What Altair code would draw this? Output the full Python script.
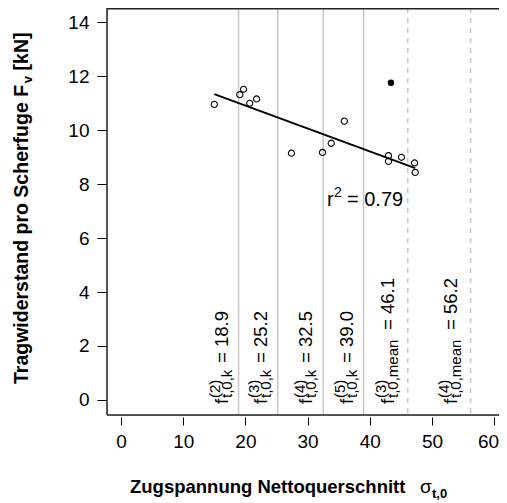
import altair as alt
import pandas as pd

# ---------------- data ----------------
x_open = [15.0, 19.1, 19.7, 20.7, 21.8, 27.4, 32.4, 33.8, 35.9, 43.0, 43.0, 45.1, 47.2, 47.3]
y_open = [10.95, 11.31, 11.51, 10.99, 11.15, 9.14, 9.17, 9.51, 10.33, 9.05, 8.84, 8.99, 8.78, 8.43]
x_filled = [43.4]
y_filled = [11.75]

line_values = [18.9, 25.2, 32.5, 39.0, 46.1, 56.2]
line_kind = ["k", "k", "k", "k", "mean", "mean"]
label_sup = ["(2)", "(3)", "(4)", "(5)", "(3)", "(4)"]
label_sub = ["t,0,k", "t,0,k", "t,0,k", "t,0,k", "t,0,mean", "t,0,mean"]
label_val = ["18.9", "25.2", "32.5", "39.0", "46.1", "56.2"]
r2_value = "0.79"

x_ticks = [0, 10, 20, 30, 40, 50, 60]
y_ticks = [0, 2, 4, 6, 8, 10, 12, 14]

# ---------------- layout ----------------
W, H = 392, 407
XDOM = [-2.25, -2.25 + W / 6.22]
YDOM = [-0.556, 14.52]
FONT = "Liberation Sans"

pts = pd.DataFrame({"x": x_open, "y": y_open})
filled = pd.DataFrame({"x": x_filled, "y": y_filled})
vl = pd.DataFrame({"v": line_values, "kind": line_kind, "sup": label_sup,
                   "sub": label_sub, "val": ["= " + s for s in label_val]})
one = pd.DataFrame({"a": [0]})

xs = alt.Scale(domain=XDOM, nice=False, zero=False)
ys = alt.Scale(domain=YDOM, nice=False, zero=False)

last_tick = "datum.value == %d" % x_ticks[-1]
x_axis = alt.Axis(values=x_ticks, domain=False, offset=2, tickSize=8, tickColor="black",
                  tickWidth=1, labelFontSize=19, labelFont=FONT, labelColor="black",
                  labelPadding=7, grid=False, title=None, labelFlush=False,
                  labelAlign={"condition": {"test": last_tick, "value": "right"}, "value": "center"},
                  labelOffset={"condition": {"test": last_tick, "value": 4.5}, "value": 0})
y_axis = alt.Axis(values=y_ticks, domain=False, offset=1, tickSize=9, tickColor="black",
                  tickWidth=1, labelFontSize=19, labelFont=FONT, labelColor="black",
                  labelPadding=8, grid=False, title=None)


def X(field):
    return alt.X(field, scale=xs, axis=x_axis)


def Y(field):
    return alt.Y(field, scale=ys, axis=y_axis)


base = alt.Chart(pts).mark_point(shape="circle", size=38, filled=False, stroke="black",
                                 strokeWidth=1.1, opacity=1).encode(x=X("x:Q"), y=Y("y:Q"))

filled_pt = alt.Chart(filled).mark_point(shape="circle", size=42, filled=True,
                                         color="black", opacity=1).encode(x=X("x:Q"), y=Y("y:Q"))

reg = alt.Chart(pts).transform_regression("x", "y").mark_line(
    color="black", strokeWidth=2).encode(x=X("x:Q"), y=Y("y:Q"))

solid = alt.Chart(vl).transform_filter("datum.kind == 'k'").mark_rule(
    color="#c8c8c8", strokeWidth=1.5).encode(x=X("v:Q"))
dashed = alt.Chart(vl).transform_filter("datum.kind == 'mean'").mark_rule(
    color="#c8c8c8", strokeWidth=1.5, strokeDash=[5, 5]).encode(x=X("v:Q"))

# box (top, left, bottom)
box_top = alt.Chart(one).mark_rule(color="#222222", strokeWidth=1.5).encode(
    x=alt.value(0), x2=alt.value(W + 5), y=alt.value(0.75))
box_left = alt.Chart(one).mark_rule(color="#222222", strokeWidth=1.5).encode(
    x=alt.value(0), y=alt.value(0), y2=alt.value(H))
box_bottom = alt.Chart(one).mark_rule(color="#222222", strokeWidth=1.5).encode(
    x=alt.value(0), x2=alt.value(W + 5), y=alt.value(H))

# rotated labels next to the vertical lines
Y0 = 396
MAIN_FS = 18.5
SUB_FS = 15


def label_layers(kind, base_dy, rest_dx):
    src = alt.Chart(vl).transform_filter(f"datum.kind == '{kind}'")
    common = dict(angle=270, align="left", baseline="alphabetic", font=FONT, color="black")
    f = src.mark_text(text="f", fontSize=MAIN_FS, dy=base_dy, **common).encode(
        x=X("v:Q"), y=alt.value(Y0))
    sup = src.mark_text(fontSize=SUB_FS, dx=6, dy=base_dy - 7.5, **common).encode(
        x=X("v:Q"), y=alt.value(Y0), text="sup:N")
    sub = src.mark_text(fontSize=SUB_FS, dx=6, dy=base_dy + 4, **common).encode(
        x=X("v:Q"), y=alt.value(Y0), text="sub:N")
    rest = src.mark_text(fontSize=MAIN_FS, dx=rest_dx, dy=base_dy, **common).encode(
        x=X("v:Q"), y=alt.value(Y0), text="val:N")
    return [f, sup, sub, rest]


lab_k = label_layers("k", -11, 41)
lab_m = label_layers("mean", -14, 74)

# r^2 annotation
R2X, R2Y = 220, 198
R2FS = 20
r_txt = alt.Chart(one).mark_text(text="r", fontSize=R2FS, font=FONT, align="left",
                                 baseline="alphabetic", color="black").encode(
    x=alt.value(R2X), y=alt.value(R2Y))
r_sup = alt.Chart(one).mark_text(text="2", fontSize=14, font=FONT, align="left",
                                 baseline="alphabetic", color="black", dx=7, dy=-9).encode(
    x=alt.value(R2X), y=alt.value(R2Y))
r_rest = alt.Chart(one).mark_text(text="= " + r2_value, fontSize=R2FS, font=FONT, align="left",
                                  baseline="alphabetic", color="black", dx=20).encode(
    x=alt.value(R2X), y=alt.value(R2Y))

# axis titles
YT_X, YT_Y = -79, 376
YT_FS = 19.5
yt_main = alt.Chart(one).mark_text(text="Tragwiderstand pro Scherfuge F", fontSize=YT_FS,
                                   fontWeight="bold", font=FONT, angle=270, align="left",
                                   baseline="alphabetic", color="black").encode(
    x=alt.value(YT_X), y=alt.value(YT_Y))
yt_sub = alt.Chart(one).mark_text(text="v", fontSize=13, fontWeight="bold", font=FONT,
                                  angle=270, align="left", baseline="alphabetic", color="black",
                                  dx=15.392 * YT_FS + 0.5, dy=4).encode(
    x=alt.value(YT_X), y=alt.value(YT_Y))
yt_rest = alt.Chart(one).mark_text(text="[kN]", fontSize=YT_FS, fontWeight="bold", font=FONT,
                                   angle=270, align="left", baseline="alphabetic", color="black",
                                   dx=15.392 * YT_FS + 8 + 0.278 * YT_FS).encode(
    x=alt.value(YT_X), y=alt.value(YT_Y))

XT_X, XT_Y = 23, 485
xt_main = alt.Chart(one).mark_text(text="Zugspannung Nettoquerschnitt", fontSize=18.5,
                                   fontWeight="bold", font=FONT, align="left",
                                   baseline="alphabetic", color="black").encode(
    x=alt.value(XT_X), y=alt.value(XT_Y))
xt_sig = alt.Chart(one).mark_text(text="σ", fontSize=19, font=FONT, align="left",
                                  baseline="alphabetic", color="black").encode(
    x=alt.value(XT_X + 290), y=alt.value(XT_Y))
xt_sub = alt.Chart(one).mark_text(text="t,0", fontSize=13, fontWeight="bold", font=FONT,
                                  align="left", baseline="alphabetic", color="black").encode(
    x=alt.value(XT_X + 302), y=alt.value(XT_Y + 5))

chart = alt.layer(
    solid, dashed, base, filled_pt, reg, box_top, box_left, box_bottom,
    *lab_k, *lab_m, r_txt, r_sup, r_rest,
    yt_main, yt_sub, yt_rest, xt_main, xt_sig, xt_sub,
).properties(
    width=W, height=H,
    padding={"left": 99, "top": 0, "right": 0, "bottom": 88},
    autosize=alt.AutoSizeParams(type="none"),
).configure_view(stroke=None).configure(background="white")

chart.save("out.html", embed_options={"renderer": "svg", "actions": False})
